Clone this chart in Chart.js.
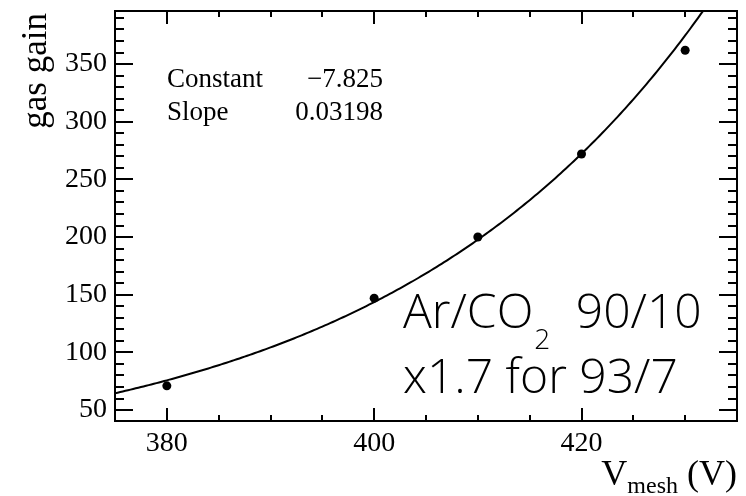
<!DOCTYPE html>
<html>
<head>
<meta charset="utf-8">
<script src="https://cdn.jsdelivr.net/npm/chart.js@4/dist/chart.umd.min.js"></script>
<style>
  html, body { margin: 0; padding: 0; background: #fff; }
  canvas { display: block; }
</style>
</head>
<body>
<canvas id="c" width="746" height="496"></canvas>
<script>
// Measured gas gain versus mesh voltage
const vMesh   = [380, 400, 410, 420, 430];
const gasGain = [71, 147, 200, 272, 362];

// Exponential fit: gain = exp(Constant + Slope * V)
const fitNames  = ['Constant', 'Slope'];
const fitValues = [-7.825, 0.03198];
const fitText   = ['\u22127.825', '0.03198'];

// Axis ranges and labelled ticks
const xRange = [375, 435];
const yRange = [40.5, 396];
const xTicks = [380, 400, 420];
const yTicks = [50, 100, 150, 200, 250, 300, 350];
const xMinorStep = 5;
const yMinorStep = 10;

const SERIF = "'Liberation Serif', 'Times New Roman', serif";
const SANS  = "'Open Sans', 'Liberation Sans', sans-serif";

// Fit curve sampled over the x range
const fitCurve = [];
for (let v = xRange[0]; v <= xRange[1] + 1e-9; v += 0.25) {
  fitCurve.push({ x: v, y: Math.exp(fitValues[0] + fitValues[1] * v) });
}
const points = vMesh.map((v, i) => ({ x: v, y: gasGain[i] }));

// Frame, inward ticks on all four sides, titles and annotations
const decorations = {
  id: 'decorations',
  afterDraw(chart) {
    const ctx = chart.ctx;
    const a = chart.chartArea;
    const xs = chart.scales.x, ys = chart.scales.y;
    ctx.save();
    ctx.strokeStyle = '#000';
    ctx.fillStyle = '#000';

    // ticks
    ctx.lineWidth = 2;
    ctx.beginPath();
    for (let v = xRange[0]; v <= xRange[1] + 1e-9; v += xMinorStep) {
      const px = Math.round(xs.getPixelForValue(v));
      const len = xTicks.includes(v) ? 13 : 6;
      ctx.moveTo(px, a.bottom); ctx.lineTo(px, a.bottom - len);
      ctx.moveTo(px, a.top);    ctx.lineTo(px, a.top + len);
    }
    for (let v = Math.ceil(yRange[0] / yMinorStep) * yMinorStep; v <= yRange[1]; v += yMinorStep) {
      const py = Math.round(ys.getPixelForValue(v));
      const len = yTicks.includes(v) ? 18 : 9;
      ctx.moveTo(a.left, py);  ctx.lineTo(a.left + len, py);
      ctx.moveTo(a.right, py); ctx.lineTo(a.right - len, py);
    }
    ctx.stroke();

    // frame
    ctx.lineWidth = 2;
    ctx.strokeRect(a.left, a.top, a.right - a.left, a.bottom - a.top);

    // y title
    ctx.save();
    ctx.translate(46, a.top + 2);
    ctx.rotate(-Math.PI / 2);
    ctx.font = '35px ' + SERIF;
    ctx.textAlign = 'right';
    ctx.textBaseline = 'alphabetic';
    ctx.fillText('gas gain', 0, 0);
    ctx.restore();

    // x title: V_mesh (V)
    ctx.textBaseline = 'alphabetic';
    ctx.textAlign = 'left';
    const big = '36px ' + SERIF, sub = '24px ' + SERIF;
    ctx.font = big;  const wV = ctx.measureText('V').width;
    const wP = ctx.measureText(' (V)').width;
    ctx.font = sub;  const wS = ctx.measureText('mesh').width;
    let x0 = a.right - (wV + wS + wP);
    ctx.font = big; ctx.fillText('V', x0, 485);
    ctx.font = sub; ctx.fillText('mesh', x0 + wV, 493);
    ctx.font = big; ctx.fillText(' (V)', x0 + wV + wS, 485);

    // fit parameters
    ctx.font = '27px ' + SERIF;
    const rows = [87, 120];
    fitNames.forEach((n, i) => {
      ctx.textAlign = 'left';
      ctx.fillText(n, 167, rows[i]);
      ctx.textAlign = 'right';
      ctx.fillText(fitText[i], 383, rows[i]);
    });

    // gas mixture note
    ctx.textAlign = 'left';
    const noteFont = '300 48px ' + SANS, noteSub = '300 28px ' + SANS;
    let nx = 403;
    ctx.font = noteFont; ctx.fillText('Ar/CO', nx, 328);
    nx += ctx.measureText('Ar/CO').width;
    ctx.font = noteSub; ctx.fillText('2', nx + 1, 349);
    nx += ctx.measureText('2').width + 14;
    ctx.font = noteFont; ctx.fillText(' 90/10', nx, 328);
    ctx.fillText('x1.7 for 93/7', 403, 393);

    ctx.restore();
  }
};

// Keep the plot frame at fixed margins regardless of label overhang
const noOverhang = s => {
  s.paddingTop = 0; s.paddingBottom = 0; s.paddingLeft = 0; s.paddingRight = 0;
};

new Chart(document.getElementById('c'), {
  type: 'scatter',
  data: {
    datasets: [
      {
        label: 'fit',
        data: fitCurve,
        showLine: true,
        borderColor: '#000',
        borderWidth: 2,
        pointRadius: 0,
        tension: 0,
        order: 2
      },
      {
        label: 'gas gain',
        data: points,
        showLine: false,
        pointRadius: 4.5,
        pointBackgroundColor: '#000',
        pointBorderWidth: 0,
        order: 1
      }
    ]
  },
  options: {
    responsive: false,
    animation: false,
    devicePixelRatio: 1,
    layout: { padding: { left: 0, right: 9, top: 11, bottom: 0 } },
    plugins: { legend: { display: false }, tooltip: { enabled: false } },
    scales: {
      x: {
        type: 'linear',
        min: xRange[0], max: xRange[1],
        afterBuildTicks: s => { s.ticks = xTicks.map(v => ({ value: v })); },
        afterFit: s => { s.height = 75; noOverhang(s); },
        grid: { display: false, drawTicks: false },
        border: { display: false },
        ticks: { color: '#000', font: { family: SERIF, size: 28 }, padding: 6, maxRotation: 0 }
      },
      y: {
        type: 'linear',
        min: yRange[0], max: yRange[1],
        afterBuildTicks: s => { s.ticks = yTicks.map(v => ({ value: v })); },
        afterFit: s => { s.width = 115; noOverhang(s); },
        grid: { display: false, drawTicks: false },
        border: { display: false },
        ticks: { color: '#000', font: { family: SERIF, size: 28 }, padding: 8 }
      }
    }
  },
  plugins: [decorations]
});
</script>
</body>
</html>
